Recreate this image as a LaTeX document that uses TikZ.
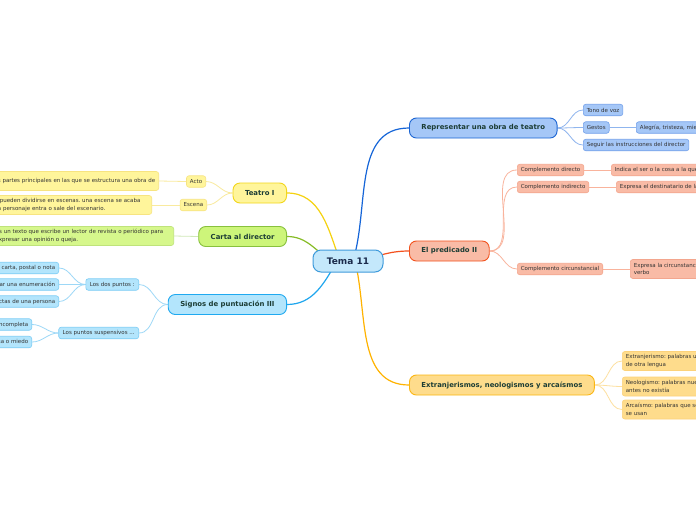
\documentclass[tikz,border=0pt]{standalone}
\usepackage{fontspec}
\setmainfont{DejaVu Sans}
\usetikzlibrary{backgrounds}
\frenchspacing

\definecolor{temafill}{HTML}{C4E8FB}
\definecolor{temaline}{HTML}{3F9BDB}
\definecolor{temaink}{HTML}{1B2B4B}
\definecolor{topicink}{HTML}{1C3D35}
\definecolor{leafink}{HTML}{333333}
\definecolor{repfill}{HTML}{A5C7F7}
\definecolor{repline}{HTML}{1A64D3}
\definecolor{replink}{HTML}{1565D8}
\definecolor{repsub}{HTML}{74A1EA}
\definecolor{reptwig}{HTML}{8FB5EE}
\definecolor{predfill}{HTML}{F9BBA6}
\definecolor{predline}{HTML}{F2511C}
\definecolor{predlink}{HTML}{F4511E}
\definecolor{predsub}{HTML}{F3A68E}
\definecolor{predtwig}{HTML}{F9B39C}
\definecolor{extfill}{HTML}{FEDC8C}
\definecolor{extline}{HTML}{FBB612}
\definecolor{extlink}{HTML}{FFB300}
\definecolor{extsub}{HTML}{FCD27A}
\definecolor{exttwig}{HTML}{FDE0A0}
\definecolor{teafill}{HTML}{FFF59B}
\definecolor{tealine}{HTML}{F2D61B}
\definecolor{tealink}{HTML}{F5D210}
\definecolor{teasub}{HTML}{F7E481}
\definecolor{teatwig}{HTML}{F9EA9E}
\definecolor{cartafill}{HTML}{CDF57A}
\definecolor{cartaline}{HTML}{88C13D}
\definecolor{cartalink}{HTML}{86BC25}
\definecolor{cartasubfill}{HTML}{D6F78C}
\definecolor{cartasub}{HTML}{BFE37B}
\definecolor{cartatwig}{HTML}{D0E8B8}
\definecolor{signfill}{HTML}{B3E5FC}
\definecolor{signline}{HTML}{1FA9F0}
\definecolor{signlink}{HTML}{1FA6EE}
\definecolor{signsub}{HTML}{7CCDF5}
\definecolor{signtwig}{HTML}{9DD8F7}

\begin{document}
\begin{tikzpicture}[x=1pt, y=1pt,
    tema/.style={draw=temaline, fill=temafill, line width=1pt, rounded corners=8pt, minimum width=70pt, minimum height=22pt, inner sep=0pt, text=temaink, font=\fontsize{9}{10}\selectfont\bfseries},
    topic/.style={line width=0.9pt, rounded corners=7pt, minimum height=20pt, inner xsep=12pt, inner ysep=0pt, text=topicink, font=\fontsize{6.9}{8}\selectfont\bfseries},
    leaf/.style={line width=0.6pt, rounded corners=2.5pt, minimum height=11.5pt, inner xsep=3.5pt, inner ysep=1.5pt, text=leafink, font=\fontsize{5.5}{7.5}\selectfont, align=left},
    tall/.style={leaf, minimum height=19pt},
    reptopic/.style={topic, draw=repline, fill=repfill},
    predtopic/.style={topic, draw=predline, fill=predfill},
    exttopic/.style={topic, draw=extline, fill=extfill},
    teatopic/.style={topic, draw=tealine, fill=teafill},
    cartatopic/.style={topic, draw=cartaline, fill=cartafill},
    signtopic/.style={topic, draw=signline, fill=signfill},
    repbox/.style={draw=repsub, fill=repfill},
    predbox/.style={draw=predsub, fill=predfill},
    extbox/.style={draw=extsub, fill=extfill},
    teabox/.style={draw=teasub, fill=teafill},
    cartabox/.style={draw=cartasub, fill=cartasubfill},
    signbox/.style={draw=signsub, fill=signfill},
    link/.style={line width=1.2pt},
    twig/.style={line width=0.8pt}
]
    \useasboundingbox (0,0) rectangle (696,-520);
    \clip (0,0) rectangle (696,-520);

    % Centre
    \node[tema] (tema) at (348,-261) {Tema 11};

    % Main topics
    \node[reptopic, anchor=west] (rep) at (409,-128) {Representar una obra de teatro};
    \node[predtopic, anchor=west] (pred) at (409,-251) {El predicado II};
    \node[exttopic, anchor=west] (ext) at (409,-385) {Extranjerismos, neologismos y arcaísmos};
    \node[teatopic, anchor=east] (teatro) at (287,-193) {Teatro I};
    \node[cartatopic, anchor=east] (carta) at (287,-236.5) {Carta al director};
    \node[signtopic, anchor=east] (signos) at (287,-304.5) {Signos de puntuación III};

    % Representar una obra de teatro
    \node[leaf, repbox, anchor=west] (tono) at (583,-110) {Tono de voz};
    \node[leaf, repbox, anchor=west] (gestos) at (583,-127.5) {Gestos};
    \node[leaf, repbox, anchor=west] (alegria) at (636,-127.5) {Alegría, tristeza, miedo, ira};
    \node[leaf, repbox, anchor=west] (seguir) at (583,-145) {Seguir las instrucciones del director};

    % El predicado II
    \node[leaf, predbox, anchor=west] (cdir) at (517,-170) {Complemento directo};
    \node[leaf, predbox, anchor=west] (indica) at (611,-170) {Indica el ser o la cosa a la que afecta la acción};
    \node[leaf, predbox, anchor=west] (cind) at (517,-187) {Complemento indirecto};
    \node[leaf, predbox, anchor=west] (expdest) at (616,-187) {Expresa el destinatario de la acción};
    \node[leaf, predbox, anchor=west] (ccirc) at (517,-269) {Complemento circunstancial};
    \node[tall, predbox, anchor=west] (expcirc) at (630,-269) {Expresa la circunstancia de la acción del\\verbo};

    % Extranjerismos, neologismos y arcaismos
    \node[tall, extbox, anchor=west] (extr) at (622,-361) {Extranjerismo: palabras usadas que vienen\\de otra lengua};
    \node[tall, extbox, anchor=west] (neo) at (622,-386.5) {Neologismo: palabras nuevas para algo que\\antes no existía};
    \node[tall, extbox, anchor=west] (arca) at (622,-409.5) {Arcaísmo: palabras que son antiguas y ya no\\se usan};

    % Teatro I
    \node[leaf, teabox, anchor=east] (acto) at (206,-181.5) {Acto};
    \node[leaf, teabox, anchor=east] (escena) at (207,-205) {Escena};
    \node[tall, teabox, anchor=east] (tacto) at (159,-181) {las partes principales en las que se estructura una obra de};
    \node[tall, teabox, anchor=east, text width=176pt] (tescena) at (152,-205) {Los actos pueden dividirse en escenas. una escena se acaba\\cuando un personaje entra o sale del escenario.};

    % Carta al director
    \node[tall, cartabox, anchor=east, text width=174.5pt] (tcarta) at (174,-236) {Es un texto que escribe un lector de revista o periódico para\\expresar una opinión o queja.};

    % Signos de puntuacion III
    \node[leaf, signbox, anchor=east, inner xsep=4pt] (dospuntos) at (139,-284.5) {Los dos puntos :};
    \node[leaf, signbox, anchor=east, inner xsep=4pt] (suspens) at (139,-333) {Los puntos suspensivos ...};
    \node[leaf, signbox, anchor=east] (saludo) at (59,-268) {de una carta, postal o nota};
    \node[leaf, signbox, anchor=east] (enum) at (59,-284.5) {Para iniciar una enumeración};
    \node[leaf, signbox, anchor=east] (cita) at (59,-301.5) {las palabras exactas de una persona};
    \node[leaf, signbox, anchor=east] (incomp) at (32,-324.5) {una enumeración incompleta};
    \node[leaf, signbox, anchor=east] (miedo) at (32,-342) {duda, sorpresa o miedo};

    \begin{pgfonlayer}{background}
        \fill[white] (0,0) rectangle (696,-520);

        % Branches from the centre
        \draw[link, draw=replink] ([xshift=5pt]tema.center) to[out=73,in=180] (rep.west);
        \draw[link, draw=predlink] ([xshift=12pt]tema.center) to[out=15,in=180] (pred.west);
        \draw[link, draw=extlink] ([xshift=7pt]tema.center) to[out=-76,in=180] (ext.west);
        \draw[link, draw=tealink] ([xshift=-8pt]tema.center) to[out=110,in=0] (teatro.east);
        \draw[link, draw=cartalink] ([xshift=-17pt]tema.center) to[out=146,in=0] (carta.east);
        \draw[link, draw=signlink] ([xshift=-11pt]tema.center) to[out=-120,in=0] (signos.east);

        \draw[twig, draw=reptwig] (rep.east) to[out=0,in=180] (tono.west);
        \draw[twig, draw=reptwig] (rep.east) to[out=0,in=180] (gestos.west);
        \draw[twig, draw=reptwig] (rep.east) to[out=0,in=180] (seguir.west);
        \draw[twig, draw=reptwig] (gestos.east) -- (alegria.west);

        \draw[twig, draw=predtwig] (pred.east) to[out=0,in=180] (cdir.west);
        \draw[twig, draw=predtwig] (pred.east) to[out=0,in=180] (cind.west);
        \draw[twig, draw=predtwig] (pred.east) to[out=0,in=180] (ccirc.west);
        \draw[twig, draw=predtwig] (cdir.east) -- (indica.west);
        \draw[twig, draw=predtwig] (cind.east) -- (expdest.west);
        \draw[twig, draw=predtwig] (ccirc.east) -- (expcirc.west);

        \draw[twig, draw=exttwig] (ext.east) to[out=0,in=180] (extr.west);
        \draw[twig, draw=exttwig] (ext.east) to[out=0,in=180] (neo.west);
        \draw[twig, draw=exttwig] (ext.east) to[out=0,in=180] (arca.west);

        \draw[twig, draw=teatwig] (teatro.west) to[out=180,in=0] (acto.east);
        \draw[twig, draw=teatwig] (teatro.west) to[out=180,in=0] (escena.east);
        \draw[twig, draw=teatwig] (acto.west) -- (tacto.east);
        \draw[twig, draw=teatwig] (escena.west) -- (tescena.east);

        \draw[twig, draw=cartatwig] (carta.west) -- (tcarta.east);

        \draw[twig, draw=signtwig] (signos.west) to[out=180,in=0] (dospuntos.east);
        \draw[twig, draw=signtwig] (signos.west) to[out=180,in=0] (suspens.east);
        \draw[twig, draw=signtwig] (dospuntos.west) to[out=180,in=0] (saludo.east);
        \draw[twig, draw=signtwig] (dospuntos.west) to[out=180,in=0] (enum.east);
        \draw[twig, draw=signtwig] (dospuntos.west) to[out=180,in=0] (cita.east);
        \draw[twig, draw=signtwig] (suspens.west) to[out=180,in=0] (incomp.east);
        \draw[twig, draw=signtwig] (suspens.west) to[out=180,in=0] (miedo.east);
    \end{pgfonlayer}
\end{tikzpicture}
\end{document}
